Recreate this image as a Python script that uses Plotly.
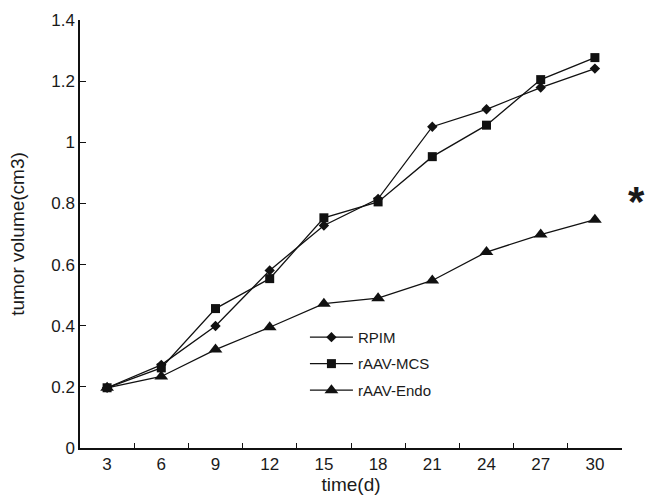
import plotly.graph_objects as go

days = ["3", "6", "9", "12", "15", "18", "21", "24", "27", "30"]
rpim = [0.197, 0.272, 0.399, 0.581, 0.728, 0.815, 1.051, 1.108, 1.179, 1.241]
raav_mcs = [0.197, 0.262, 0.456, 0.554, 0.753, 0.805, 0.953, 1.056, 1.205, 1.277]
raav_endo = [0.197, 0.234, 0.322, 0.395, 0.472, 0.490, 0.548, 0.641, 0.698, 0.747]
y_ticks = [0, 0.2, 0.4, 0.6, 0.8, 1.0, 1.2, 1.4]

FONT = "Liberation Sans, Arial, sans-serif"
INK = "#1a1a1a"

fig = go.Figure()
series = [
    ("RPIM", rpim, "diamond", 8),
    ("rAAV-MCS", raav_mcs, "square", 9),
    ("rAAV-Endo", raav_endo, "triangle-up", 12),
]
for name, vals, sym, sz in series:
    fig.add_trace(go.Scatter(
        x=days, y=vals, name=name, legendgroup=name,
        mode="lines+markers",
        line=dict(color="#111111", width=1.3),
        marker=dict(symbol=sym, size=sz, color="#111111"),
    ))

fig.add_annotation(
    text="<b>*</b>", xref="paper", yref="paper", x=1.0, y=0.575,
    xshift=4,
    showarrow=False, font=dict(family=FONT, size=42, color=INK),
    xanchor="left", yanchor="middle",
)

fig.update_layout(
    width=646, height=503,
    margin=dict(l=80, r=24, t=20, b=55, autoexpand=False),
    paper_bgcolor="white", plot_bgcolor="white",
    font=dict(family=FONT, color=INK, size=17),
    showlegend=True,
    legend=dict(
        x=0.415, y=0.297, xanchor="left", yanchor="top",
        bgcolor="rgba(0,0,0,0)", font=dict(size=15, family=FONT, color=INK),
        traceorder="grouped", tracegroupgap=4, itemwidth=43,
    ),
    xaxis=dict(
        type="category", tickson="boundaries", range=[-0.5, 9.5],
        showline=True, linecolor="#111111", linewidth=1.5,
        ticks="inside", ticklen=5, tickwidth=1.3, tickcolor="#111111",
        showgrid=False, zeroline=False, automargin=False,
        tickfont=dict(size=17, family=FONT, color=INK),
        title=dict(text="time(d)", font=dict(size=19, family=FONT, color=INK), standoff=2),
    ),
    yaxis=dict(
        range=[0, 1.4], tickvals=y_ticks,
        showline=True, linecolor="#111111", linewidth=1.5,
        ticks="inside", ticklen=6, tickwidth=1.3, tickcolor="#111111",
        showgrid=False, zeroline=False, automargin=False,
        tickfont=dict(size=17, family=FONT, color=INK),
        title=dict(text="tumor volume(cm3)", font=dict(size=19, family=FONT, color=INK), standoff=22),
    ),
)

fig.write_html(
    "out.html",
    config={"displayModeBar": False},
    post_script="document.body.style.margin='0';document.body.style.overflow='hidden';",
)
